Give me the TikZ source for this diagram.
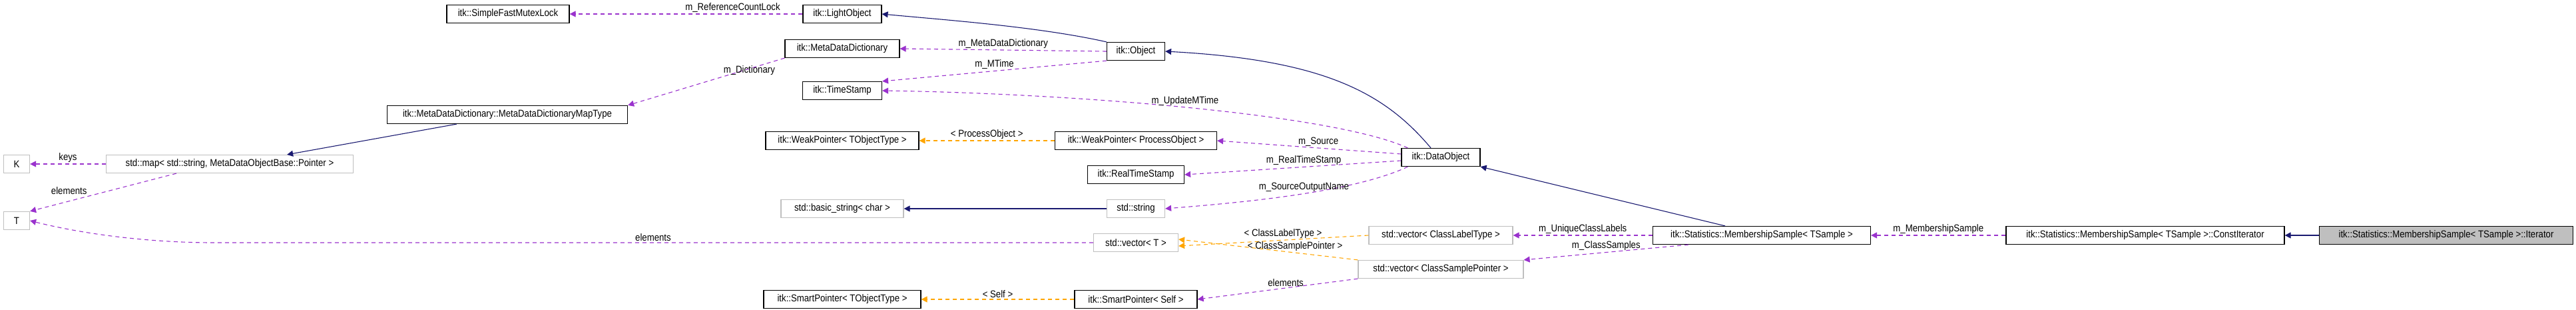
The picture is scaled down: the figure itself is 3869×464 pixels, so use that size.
\documentclass[tikz,border=0pt]{standalone}
\usepackage{fontspec}
\setmainfont{Liberation Sans}[FakeStretch=0.88]
\usetikzlibrary{arrows.meta}
\definecolor{purp}{HTML}{9A32CD}
\definecolor{orng}{HTML}{FFA500}
\definecolor{navy}{HTML}{191970}
\begin{document}
\begin{tikzpicture}[x=1pt,y=-1pt,
  box/.style={draw=black,line width=1.2pt,minimum height=27pt,inner sep=0pt,font=\fontsize{15}{16}\selectfont,fill=white},
  gbox/.style={box,draw=black!25},
  mem/.style={purp,dashed,line width=1.1pt,dash pattern=on 6pt off 5pt,-{Triangle[length=9pt,width=9pt]}},
  tpl/.style={orng,dashed,line width=1.1pt,dash pattern=on 6pt off 5pt,-{Triangle[length=9pt,width=9pt]}},
  inh/.style={navy,line width=1.1pt,-{Triangle[length=9pt,width=9pt]}},
  lab/.style={black,font=\fontsize{15}{16}\selectfont,inner sep=2pt}]
\useasboundingbox (0,0) rectangle (3869,464);
\node[box,minimum width=184pt] (sfml) at (763,21) {itk::SimpleFastMutexLock};
\node[box,minimum width=361pt] (mapt) at (762,172) {itk::MetaDataDictionary::MetaDataDictionaryMapType};
\node[gbox,minimum width=371pt] (map) at (345,246) {std::map< std::string, MetaDataObjectBase::Pointer >};
\node[gbox,minimum width=39pt] (K) at (25,246) {K};
\node[gbox,minimum width=39pt] (T) at (25,331) {T};
\node[box,minimum width=118pt] (light) at (1265,21) {itk::LightObject};
\node[box,minimum width=172pt] (mdd) at (1265,73) {itk::MetaDataDictionary};
\node[box,minimum width=87pt] (obj) at (1706,77) {itk::Object};
\node[box,minimum width=119pt] (ts) at (1265,136) {itk::TimeStamp};
\node[box,minimum width=230pt] (wpt) at (1265,211) {itk::WeakPointer< TObjectType >};
\node[box,minimum width=243pt] (wpp) at (1706,211) {itk::WeakPointer< ProcessObject >};
\node[box,minimum width=145pt] (rts) at (1706,262) {itk::RealTimeStamp};
\node[gbox,minimum width=184pt] (bstr) at (1265,313) {std::basic\_string< char >};
\node[gbox,minimum width=87pt] (str) at (1706,313) {std::string};
\node[gbox,minimum width=127pt] (vt) at (1706,364) {std::vector< T >};
\node[box,minimum width=236pt] (spt) at (1265,449) {itk::SmartPointer< TObjectType >};
\node[box,minimum width=184pt] (sps) at (1706,449) {itk::SmartPointer< Self >};
\node[box,minimum width=118pt] (dobj) at (2164,236) {itk::DataObject};
\node[gbox,minimum width=216pt] (vcl) at (2164,353) {std::vector< ClassLabelType >};
\node[gbox,minimum width=248pt] (vcs) at (2164,404) {std::vector< ClassSamplePointer >};
\node[box,minimum width=327pt] (ms) at (2646,353) {itk::Statistics::MembershipSample< TSample >};
\node[box,minimum width=418pt] (ci) at (3222,353) {itk::Statistics::MembershipSample< TSample >::ConstIterator};
\node[box,minimum width=381pt,fill=black!25] (it) at (3674,353) {itk::Statistics::MembershipSample< TSample >::Iterator};

\draw[mem] (light) -- node[lab,above,pos=0.3]{m\_ReferenceCountLock} (sfml);
\draw[inh] (obj.north west) .. controls (1560,40) and (1420,30) .. (light.east);
\draw[mem] (obj.west) -- node[lab,above]{m\_MetaDataDictionary} (mdd.east);
\draw[mem] (obj.south west) -- node[lab,above,pos=0.5]{m\_MTime} (ts.north east);
\draw[mem] (mdd.south west) -- node[lab,above right,pos=0.4]{m\_Dictionary} (mapt.north east);
\draw[inh] (mapt.south west) ++(105,0) -- ([xshift=-100pt]map.north east);
\draw[mem] (map) -- node[lab,above]{keys} (K);
\draw[mem] ([xshift=-80pt]map.south) -- node[lab,above left,pos=0.6]{elements} (T.north east);
\draw[mem] (vt.west) -- (320,364) node[lab,above,pos=0.5]{elements} .. controls (220,364) and (120,350) .. (T.east);
\draw[inh] (dobj.north) ++(-15,0) .. controls (2080,140) and (1990,90) .. (obj.east);
\draw[mem] (dobj.north west) ++(10,0) .. controls (2000,170) and (1600,140) .. (ts.east) node[lab,pos=0.5,above]{m\_UpdateMTime};
\draw[mem] (dobj.west) ++(0,-5) -- node[lab,above,pos=0.45]{m\_Source} (wpp.east);
\draw[mem] (dobj.west) ++(0,5) -- node[lab,above,pos=0.45]{m\_RealTimeStamp} (rts.east);
\draw[mem] (dobj.south west) ++(10,0) .. controls (2030,290) and (1850,305) .. (str.east) node[lab,pos=0.45,above]{m\_SourceOutputName};
\draw[tpl] (wpp) -- node[lab,above]{< ProcessObject >} (wpt);
\draw[tpl] (vcl.west) -- node[lab,above,pos=0.45]{< ClassLabelType >} ([yshift=-5pt]vt.east);
\draw[tpl] (vcs.north west) -- node[lab,above,pos=0.35]{< ClassSamplePointer >} ([yshift=5pt]vt.east);
\draw[inh] (str) -- (bstr);
\draw[mem] (vcs.south west) -- node[lab,above,pos=0.45]{elements} (sps.east);
\draw[tpl] (sps) -- node[lab,above]{< Self >} (spt);
\draw[inh] ([xshift=-55pt]ms.north) -- (dobj.south east);
\draw[mem] (ms) -- node[lab,above]{m\_UniqueClassLabels} (vcl);
\draw[mem] ([xshift=-110pt]ms.south) -- node[lab,above]{m\_ClassSamples} (vcs.north east);
\draw[mem] (ci) -- node[lab,above]{m\_MembershipSample} (ms);
\draw[inh] (it) -- (ci);
\end{tikzpicture}
\end{document}
